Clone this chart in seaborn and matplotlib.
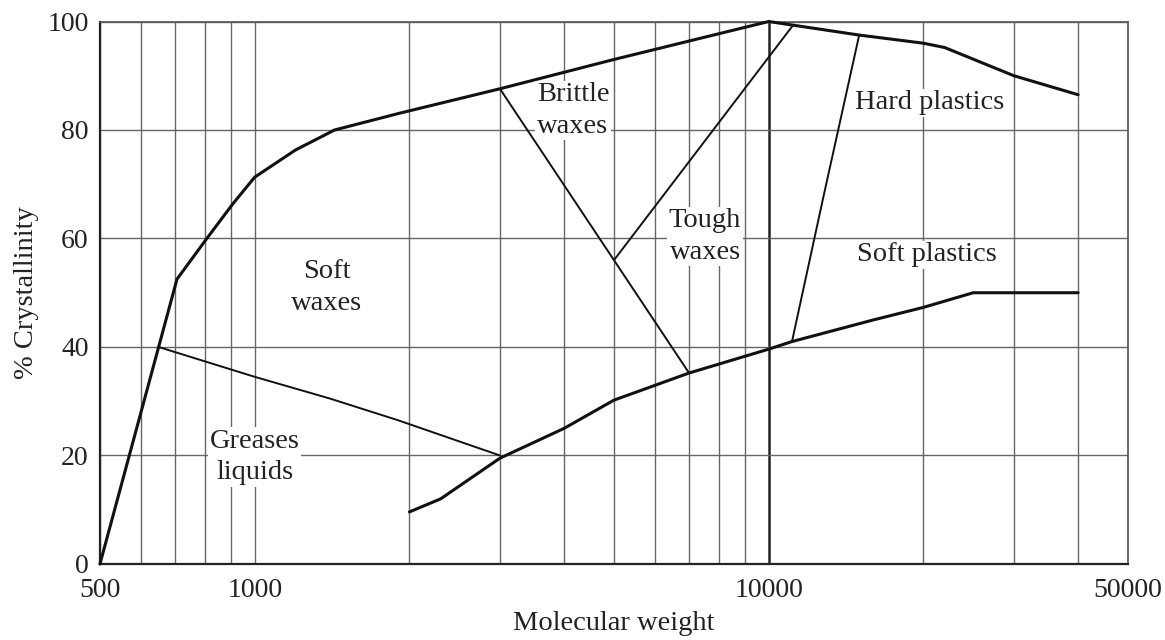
import matplotlib
matplotlib.use("Agg")
import matplotlib.pyplot as plt
import seaborn as sns
import pandas as pd

# outer boundary (crystallinity maximum)
upper_mw = [500, 706, 807, 907, 1000, 1200, 1430, 1915, 3000, 5000, 10000, 15000, 20000, 22000, 30000, 40000]
upper_cryst = [0, 52.5, 60, 66.4, 71.3, 76.3, 80, 83.1, 87.6, 93, 100, 97.5, 96, 95.2, 90, 86.5]

# lower boundary (plastics / waxes)
lower_mw = [2000, 2300, 3000, 4000, 5000, 7000, 10000, 11100, 16000, 20000, 25000, 40000]
lower_cryst = [9.6, 12, 19.5, 25, 30.2, 35.2, 39.6, 41, 45, 47.3, 50, 50]

# region dividers
greases_mw = [650, 1000, 1400, 1900, 3000]
greases_cryst = [40, 34.5, 30.5, 26.5, 20]
brittle_mw = [3000, 7000]
brittle_cryst = [87.6, 35.2]
tough_mw = [5000, 11150]
tough_cryst = [56, 99.3]
plastics_mw = [11100, 12800, 15000]
plastics_cryst = [41, 68, 97.5]

# region labels
region_names = ["Soft\nwaxes", "Brittle\nwaxes", "Tough\nwaxes", "Hard plastics",
                "Soft plastics", "Greases\nliquids"]
region_mw = [1380, 4160, 7520, 20600, 20300, 1000]
region_cryst = [51, 83.6, 60.4, 85, 57, 19.7]

# axis ticks and grid
x_labels = [500, 1000, 10000, 50000]
x_grid = [600, 700, 800, 900, 1000, 2000, 3000, 4000, 5000, 6000, 7000, 8000, 9000,
          10000, 20000, 30000, 40000]
y_ticks = [0, 20, 40, 60, 80, 100]

sns.set_style("white")
plt.rcParams["font.family"] = ["Liberation Serif", "DejaVu Serif"]

fig = plt.figure(figsize=(11.65, 6.4), dpi=100)
ax = fig.add_axes([0.0858, 0.1188, 0.8824, 0.8476])
ax.set_xscale("log")

boundaries = [
    (upper_mw, upper_cryst, 2.2),
    (lower_mw, lower_cryst, 2.2),
    (greases_mw, greases_cryst, 1.4),
    (brittle_mw, brittle_cryst, 1.4),
    (tough_mw, tough_cryst, 1.4),
    (plastics_mw, plastics_cryst, 1.4),
]
for mw, cr, lw in boundaries:
    df = pd.DataFrame({"mw": mw, "cryst": cr})
    sns.lineplot(data=df, x="mw", y="cryst", sort=False, estimator=None,
                 color="#111111", linewidth=lw, ax=ax, clip_on=False, zorder=3)

for name, x, y in zip(region_names, region_mw, region_cryst):
    ax.text(x, y, name, ha="center", va="center", fontsize=20.5, color="#222222",
            linespacing=1.35, zorder=4,
            bbox=dict(facecolor="white", edgecolor="none", pad=1))

ax.set_xlim(500, 50000)
ax.set_ylim(0, 100)
all_x = [500] + x_grid + [50000]
ax.set_xticks(all_x)
ax.set_xticklabels([str(v) if v in x_labels else "" for v in all_x])
ax.xaxis.set_minor_locator(matplotlib.ticker.NullLocator())
ax.set_yticks(y_ticks)
ax.tick_params(length=0, labelsize=20, colors="#222222")
ax.tick_params(axis="x", pad=10)
ax.tick_params(axis="y", pad=8)

ax.grid(True, color="#666666", linewidth=1.0)
for val, line in zip(all_x, ax.get_xgridlines()):
    if val == 10000:
        line.set_color("#222222")
        line.set_linewidth(1.8)

for s in ax.spines.values():
    s.set_color("#555555")
    s.set_linewidth(1.2)
ax.spines["left"].set_color("#222222")
ax.spines["bottom"].set_color("#222222")
ax.spines["left"].set_linewidth(1.6)
ax.spines["bottom"].set_linewidth(1.6)

ax.set_xlabel("Molecular weight", fontsize=20.5, color="#222222", labelpad=6)
ax.set_ylabel("% Crystallinity", fontsize=20.5, color="#222222", labelpad=6)

fig.savefig("out.png", dpi=100)
